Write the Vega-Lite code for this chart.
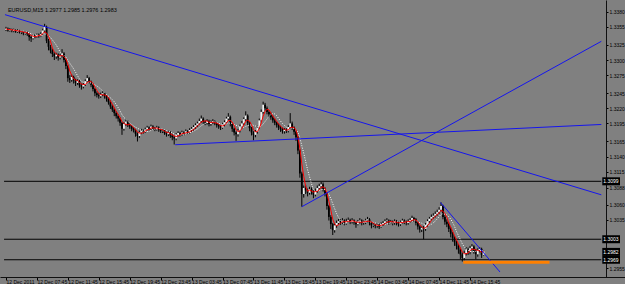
{
  "$schema": "https://vega.github.io/schema/vega-lite/v6.json",
  "width": 625,
  "height": 277,
  "autosize": "none",
  "padding": {"left": 0, "top": 0, "right": 0, "bottom": 7},
  "background": "#808080",
  "config": {"view": {"stroke": null}, "font": "Liberation Sans", "axis": {"labelOverlap": false, "labelFlush": false, "labelBound": false, "grid": false, "title": null}},
  "datasets": {
    "bars": [
      {"i":0,"o":1.3350,"h":1.3355,"l":1.3348,"c":1.3352},
      {"i":1,"o":1.3352,"h":1.3354,"l":1.3347,"c":1.3349},
      {"i":2,"o":1.3349,"h":1.3353,"l":1.3347,"c":1.3351},
      {"i":3,"o":1.3351,"h":1.3352,"l":1.3346,"c":1.3348},
      {"i":4,"o":1.3348,"h":1.3352,"l":1.3346,"c":1.3350},
      {"i":5,"o":1.3350,"h":1.3351,"l":1.3345,"c":1.3347},
      {"i":6,"o":1.3347,"h":1.3351,"l":1.3345,"c":1.3349},
      {"i":7,"o":1.3349,"h":1.3350,"l":1.3344,"c":1.3346},
      {"i":8,"o":1.3346,"h":1.3349,"l":1.3343,"c":1.3347},
      {"i":9,"o":1.3347,"h":1.3348,"l":1.3341,"c":1.3344},
      {"i":10,"o":1.3344,"h":1.3348,"l":1.3342,"c":1.3346},
      {"i":11,"o":1.3346,"h":1.3347,"l":1.3340,"c":1.3343},
      {"i":12,"o":1.3343,"h":1.3344,"l":1.3332,"c":1.3338},
      {"i":13,"o":1.3338,"h":1.3340,"l":1.3330,"c":1.3336},
      {"i":14,"o":1.3336,"h":1.3343,"l":1.3334,"c":1.3341},
      {"i":15,"o":1.3341,"h":1.3343,"l":1.3336,"c":1.3339},
      {"i":16,"o":1.3339,"h":1.3344,"l":1.3337,"c":1.3342},
      {"i":17,"o":1.3342,"h":1.3344,"l":1.3337,"c":1.3340},
      {"i":18,"o":1.3340,"h":1.3346,"l":1.3338,"c":1.3343},
      {"i":19,"o":1.3343,"h":1.3352,"l":1.3341,"c":1.3349},
      {"i":20,"o":1.3349,"h":1.3360,"l":1.3346,"c":1.3355},
      {"i":21,"o":1.3355,"h":1.3357,"l":1.3328,"c":1.3332},
      {"i":22,"o":1.3332,"h":1.3335,"l":1.3316,"c":1.3322},
      {"i":23,"o":1.3322,"h":1.3325,"l":1.3311,"c":1.3316},
      {"i":24,"o":1.3316,"h":1.3319,"l":1.3305,"c":1.3310},
      {"i":25,"o":1.3310,"h":1.3313,"l":1.3300,"c":1.3306},
      {"i":26,"o":1.3306,"h":1.3312,"l":1.3302,"c":1.3309},
      {"i":27,"o":1.3309,"h":1.3311,"l":1.3299,"c":1.3304},
      {"i":28,"o":1.3304,"h":1.3310,"l":1.3301,"c":1.3307},
      {"i":29,"o":1.3307,"h":1.3318,"l":1.3304,"c":1.3311},
      {"i":30,"o":1.3311,"h":1.3313,"l":1.3296,"c":1.3300},
      {"i":31,"o":1.3300,"h":1.3302,"l":1.3285,"c":1.3290},
      {"i":32,"o":1.3290,"h":1.3292,"l":1.3264,"c":1.3270},
      {"i":33,"o":1.3270,"h":1.3275,"l":1.3262,"c":1.3267},
      {"i":34,"o":1.3267,"h":1.3276,"l":1.3264,"c":1.3272},
      {"i":35,"o":1.3272,"h":1.3274,"l":1.3261,"c":1.3266},
      {"i":36,"o":1.3266,"h":1.3269,"l":1.3257,"c":1.3262},
      {"i":37,"o":1.3262,"h":1.3268,"l":1.3259,"c":1.3265},
      {"i":38,"o":1.3265,"h":1.3267,"l":1.3254,"c":1.3258},
      {"i":39,"o":1.3258,"h":1.3261,"l":1.3251,"c":1.3256},
      {"i":40,"o":1.3256,"h":1.3262,"l":1.3253,"c":1.3259},
      {"i":41,"o":1.3259,"h":1.3268,"l":1.3257,"c":1.3265},
      {"i":42,"o":1.3265,"h":1.3275,"l":1.3263,"c":1.3270},
      {"i":43,"o":1.3270,"h":1.3272,"l":1.3261,"c":1.3264},
      {"i":44,"o":1.3264,"h":1.3266,"l":1.3255,"c":1.3259},
      {"i":45,"o":1.3259,"h":1.3261,"l":1.3248,"c":1.3252},
      {"i":46,"o":1.3252,"h":1.3254,"l":1.3240,"c":1.3245},
      {"i":47,"o":1.3245,"h":1.3248,"l":1.3238,"c":1.3242},
      {"i":48,"o":1.3242,"h":1.3245,"l":1.3236,"c":1.3240},
      {"i":49,"o":1.3240,"h":1.3246,"l":1.3237,"c":1.3243},
      {"i":50,"o":1.3243,"h":1.3249,"l":1.3240,"c":1.3245},
      {"i":51,"o":1.3245,"h":1.3247,"l":1.3236,"c":1.3240},
      {"i":52,"o":1.3240,"h":1.3242,"l":1.3231,"c":1.3236},
      {"i":53,"o":1.3236,"h":1.3238,"l":1.3226,"c":1.3230},
      {"i":54,"o":1.3230,"h":1.3233,"l":1.3219,"c":1.3223},
      {"i":55,"o":1.3223,"h":1.3226,"l":1.3214,"c":1.3218},
      {"i":56,"o":1.3218,"h":1.3221,"l":1.3207,"c":1.3212},
      {"i":57,"o":1.3212,"h":1.3215,"l":1.3203,"c":1.3207},
      {"i":58,"o":1.3207,"h":1.3210,"l":1.3198,"c":1.3203},
      {"i":59,"o":1.3203,"h":1.3205,"l":1.3191,"c":1.3196},
      {"i":60,"o":1.3196,"h":1.3198,"l":1.3176,"c":1.3186},
      {"i":61,"o":1.3186,"h":1.3197,"l":1.3183,"c":1.3194},
      {"i":62,"o":1.3194,"h":1.3202,"l":1.3191,"c":1.3198},
      {"i":63,"o":1.3198,"h":1.3200,"l":1.3189,"c":1.3192},
      {"i":64,"o":1.3192,"h":1.3195,"l":1.3186,"c":1.3190},
      {"i":65,"o":1.3190,"h":1.3192,"l":1.3182,"c":1.3186},
      {"i":66,"o":1.3186,"h":1.3189,"l":1.3180,"c":1.3184},
      {"i":67,"o":1.3184,"h":1.3186,"l":1.3173,"c":1.3178},
      {"i":68,"o":1.3178,"h":1.3180,"l":1.3165,"c":1.3174},
      {"i":69,"o":1.3174,"h":1.3183,"l":1.3171,"c":1.3180},
      {"i":70,"o":1.3180,"h":1.3186,"l":1.3177,"c":1.3183},
      {"i":71,"o":1.3183,"h":1.3185,"l":1.3178,"c":1.3181},
      {"i":72,"o":1.3181,"h":1.3188,"l":1.3179,"c":1.3185},
      {"i":73,"o":1.3185,"h":1.3191,"l":1.3183,"c":1.3188},
      {"i":74,"o":1.3188,"h":1.3190,"l":1.3183,"c":1.3186},
      {"i":75,"o":1.3186,"h":1.3193,"l":1.3184,"c":1.3190},
      {"i":76,"o":1.3190,"h":1.3192,"l":1.3184,"c":1.3187},
      {"i":77,"o":1.3187,"h":1.3189,"l":1.3182,"c":1.3185},
      {"i":78,"o":1.3185,"h":1.3191,"l":1.3183,"c":1.3188},
      {"i":79,"o":1.3188,"h":1.3190,"l":1.3181,"c":1.3184},
      {"i":80,"o":1.3184,"h":1.3186,"l":1.3179,"c":1.3182},
      {"i":81,"o":1.3182,"h":1.3186,"l":1.3179,"c":1.3183},
      {"i":82,"o":1.3183,"h":1.3185,"l":1.3176,"c":1.3179},
      {"i":83,"o":1.3179,"h":1.3181,"l":1.3173,"c":1.3177},
      {"i":84,"o":1.3177,"h":1.3183,"l":1.3174,"c":1.3180},
      {"i":85,"o":1.3180,"h":1.3182,"l":1.3171,"c":1.3175},
      {"i":86,"o":1.3175,"h":1.3177,"l":1.3167,"c":1.3172},
      {"i":87,"o":1.3172,"h":1.3174,"l":1.3160,"c":1.3170},
      {"i":88,"o":1.3170,"h":1.3179,"l":1.3167,"c":1.3176},
      {"i":89,"o":1.3176,"h":1.3182,"l":1.3173,"c":1.3179},
      {"i":90,"o":1.3179,"h":1.3181,"l":1.3173,"c":1.3177},
      {"i":91,"o":1.3177,"h":1.3183,"l":1.3174,"c":1.3180},
      {"i":92,"o":1.3180,"h":1.3182,"l":1.3175,"c":1.3178},
      {"i":93,"o":1.3178,"h":1.3185,"l":1.3176,"c":1.3182},
      {"i":94,"o":1.3182,"h":1.3184,"l":1.3177,"c":1.3180},
      {"i":95,"o":1.3180,"h":1.3187,"l":1.3178,"c":1.3184},
      {"i":96,"o":1.3184,"h":1.3189,"l":1.3181,"c":1.3186},
      {"i":97,"o":1.3186,"h":1.3192,"l":1.3183,"c":1.3189},
      {"i":98,"o":1.3189,"h":1.3195,"l":1.3186,"c":1.3192},
      {"i":99,"o":1.3192,"h":1.3198,"l":1.3189,"c":1.3195},
      {"i":100,"o":1.3195,"h":1.3203,"l":1.3193,"c":1.3199},
      {"i":101,"o":1.3199,"h":1.3208,"l":1.3196,"c":1.3203},
      {"i":102,"o":1.3203,"h":1.3205,"l":1.3194,"c":1.3198},
      {"i":103,"o":1.3198,"h":1.3200,"l":1.3192,"c":1.3196},
      {"i":104,"o":1.3196,"h":1.3202,"l":1.3193,"c":1.3199},
      {"i":105,"o":1.3199,"h":1.3201,"l":1.3190,"c":1.3194},
      {"i":106,"o":1.3194,"h":1.3200,"l":1.3191,"c":1.3197},
      {"i":107,"o":1.3197,"h":1.3202,"l":1.3194,"c":1.3198},
      {"i":108,"o":1.3198,"h":1.3200,"l":1.3192,"c":1.3195},
      {"i":109,"o":1.3195,"h":1.3197,"l":1.3188,"c":1.3192},
      {"i":110,"o":1.3192,"h":1.3194,"l":1.3186,"c":1.3190},
      {"i":111,"o":1.3190,"h":1.3192,"l":1.3184,"c":1.3188},
      {"i":112,"o":1.3188,"h":1.3196,"l":1.3186,"c":1.3193},
      {"i":113,"o":1.3193,"h":1.3200,"l":1.3190,"c":1.3197},
      {"i":114,"o":1.3197,"h":1.3206,"l":1.3195,"c":1.3203},
      {"i":115,"o":1.3203,"h":1.3212,"l":1.3200,"c":1.3206},
      {"i":116,"o":1.3206,"h":1.3208,"l":1.3190,"c":1.3194},
      {"i":117,"o":1.3194,"h":1.3196,"l":1.3181,"c":1.3186},
      {"i":118,"o":1.3186,"h":1.3188,"l":1.3175,"c":1.3180},
      {"i":119,"o":1.3180,"h":1.3182,"l":1.3166,"c":1.3177},
      {"i":120,"o":1.3177,"h":1.3186,"l":1.3173,"c":1.3183},
      {"i":121,"o":1.3183,"h":1.3193,"l":1.3180,"c":1.3190},
      {"i":122,"o":1.3190,"h":1.3199,"l":1.3187,"c":1.3195},
      {"i":123,"o":1.3195,"h":1.3205,"l":1.3192,"c":1.3202},
      {"i":124,"o":1.3202,"h":1.3215,"l":1.3199,"c":1.3208},
      {"i":125,"o":1.3208,"h":1.3210,"l":1.3192,"c":1.3196},
      {"i":126,"o":1.3196,"h":1.3198,"l":1.3182,"c":1.3187},
      {"i":127,"o":1.3187,"h":1.3189,"l":1.3175,"c":1.3180},
      {"i":128,"o":1.3180,"h":1.3182,"l":1.3167,"c":1.3176},
      {"i":129,"o":1.3176,"h":1.3184,"l":1.3172,"c":1.3181},
      {"i":130,"o":1.3181,"h":1.3191,"l":1.3178,"c":1.3188},
      {"i":131,"o":1.3188,"h":1.3203,"l":1.3186,"c":1.3200},
      {"i":132,"o":1.3200,"h":1.3218,"l":1.3198,"c":1.3214},
      {"i":133,"o":1.3214,"h":1.3231,"l":1.3211,"c":1.3226},
      {"i":134,"o":1.3226,"h":1.3229,"l":1.3216,"c":1.3220},
      {"i":135,"o":1.3220,"h":1.3223,"l":1.3210,"c":1.3214},
      {"i":136,"o":1.3214,"h":1.3217,"l":1.3205,"c":1.3210},
      {"i":137,"o":1.3210,"h":1.3213,"l":1.3201,"c":1.3205},
      {"i":138,"o":1.3205,"h":1.3208,"l":1.3196,"c":1.3200},
      {"i":139,"o":1.3200,"h":1.3203,"l":1.3192,"c":1.3196},
      {"i":140,"o":1.3196,"h":1.3198,"l":1.3188,"c":1.3192},
      {"i":141,"o":1.3192,"h":1.3195,"l":1.3184,"c":1.3188},
      {"i":142,"o":1.3188,"h":1.3191,"l":1.3181,"c":1.3186},
      {"i":143,"o":1.3186,"h":1.3188,"l":1.3178,"c":1.3182},
      {"i":144,"o":1.3182,"h":1.3187,"l":1.3178,"c":1.3184},
      {"i":145,"o":1.3184,"h":1.3187,"l":1.3179,"c":1.3183},
      {"i":146,"o":1.3183,"h":1.3192,"l":1.3180,"c":1.3189},
      {"i":147,"o":1.3189,"h":1.3212,"l":1.3186,"c":1.3195},
      {"i":148,"o":1.3195,"h":1.3198,"l":1.3184,"c":1.3188},
      {"i":149,"o":1.3188,"h":1.3190,"l":1.3176,"c":1.3181},
      {"i":150,"o":1.3181,"h":1.3183,"l":1.3166,"c":1.3172},
      {"i":151,"o":1.3172,"h":1.3174,"l":1.3144,"c":1.3150},
      {"i":152,"o":1.3150,"h":1.3152,"l":1.3105,"c":1.3112},
      {"i":153,"o":1.3112,"h":1.3115,"l":1.3057,"c":1.3078},
      {"i":154,"o":1.3078,"h":1.3092,"l":1.3072,"c":1.3088},
      {"i":155,"o":1.3088,"h":1.3093,"l":1.3078,"c":1.3084},
      {"i":156,"o":1.3084,"h":1.3087,"l":1.3074,"c":1.3080},
      {"i":157,"o":1.3080,"h":1.3090,"l":1.3077,"c":1.3086},
      {"i":158,"o":1.3086,"h":1.3089,"l":1.3077,"c":1.3082},
      {"i":159,"o":1.3082,"h":1.3084,"l":1.3071,"c":1.3077},
      {"i":160,"o":1.3077,"h":1.3087,"l":1.3074,"c":1.3083},
      {"i":161,"o":1.3083,"h":1.3092,"l":1.3080,"c":1.3088},
      {"i":162,"o":1.3088,"h":1.3095,"l":1.3084,"c":1.3091},
      {"i":163,"o":1.3091,"h":1.3098,"l":1.3087,"c":1.3094},
      {"i":164,"o":1.3094,"h":1.3097,"l":1.3082,"c":1.3086},
      {"i":165,"o":1.3086,"h":1.3089,"l":1.3074,"c":1.3079},
      {"i":166,"o":1.3079,"h":1.3081,"l":1.3052,"c":1.3058},
      {"i":167,"o":1.3058,"h":1.3060,"l":1.3034,"c":1.3040},
      {"i":168,"o":1.3040,"h":1.3043,"l":1.3020,"c":1.3028},
      {"i":169,"o":1.3028,"h":1.3030,"l":1.3010,"c":1.3018},
      {"i":170,"o":1.3018,"h":1.3030,"l":1.3014,"c":1.3026},
      {"i":171,"o":1.3026,"h":1.3034,"l":1.3022,"c":1.3030},
      {"i":172,"o":1.3030,"h":1.3037,"l":1.3027,"c":1.3033},
      {"i":173,"o":1.3033,"h":1.3036,"l":1.3027,"c":1.3031},
      {"i":174,"o":1.3031,"h":1.3038,"l":1.3028,"c":1.3034},
      {"i":175,"o":1.3034,"h":1.3036,"l":1.3026,"c":1.3030},
      {"i":176,"o":1.3030,"h":1.3037,"l":1.3027,"c":1.3033},
      {"i":177,"o":1.3033,"h":1.3039,"l":1.3030,"c":1.3035},
      {"i":178,"o":1.3035,"h":1.3037,"l":1.3028,"c":1.3032},
      {"i":179,"o":1.3032,"h":1.3038,"l":1.3029,"c":1.3034},
      {"i":180,"o":1.3034,"h":1.3036,"l":1.3027,"c":1.3031},
      {"i":181,"o":1.3031,"h":1.3033,"l":1.3022,"c":1.3028},
      {"i":182,"o":1.3028,"h":1.3035,"l":1.3026,"c":1.3032},
      {"i":183,"o":1.3032,"h":1.3038,"l":1.3029,"c":1.3034},
      {"i":184,"o":1.3034,"h":1.3036,"l":1.3026,"c":1.3030},
      {"i":185,"o":1.3030,"h":1.3034,"l":1.3027,"c":1.3031},
      {"i":186,"o":1.3031,"h":1.3037,"l":1.3028,"c":1.3034},
      {"i":187,"o":1.3034,"h":1.3040,"l":1.3031,"c":1.3036},
      {"i":188,"o":1.3036,"h":1.3038,"l":1.3026,"c":1.3030},
      {"i":189,"o":1.3030,"h":1.3032,"l":1.3021,"c":1.3026},
      {"i":190,"o":1.3026,"h":1.3030,"l":1.3023,"c":1.3027},
      {"i":191,"o":1.3027,"h":1.3029,"l":1.3021,"c":1.3025},
      {"i":192,"o":1.3025,"h":1.3030,"l":1.3022,"c":1.3027},
      {"i":193,"o":1.3027,"h":1.3029,"l":1.3020,"c":1.3024},
      {"i":194,"o":1.3024,"h":1.3031,"l":1.3022,"c":1.3028},
      {"i":195,"o":1.3028,"h":1.3033,"l":1.3025,"c":1.3030},
      {"i":196,"o":1.3030,"h":1.3036,"l":1.3027,"c":1.3033},
      {"i":197,"o":1.3033,"h":1.3038,"l":1.3030,"c":1.3034},
      {"i":198,"o":1.3034,"h":1.3036,"l":1.3027,"c":1.3031},
      {"i":199,"o":1.3031,"h":1.3035,"l":1.3028,"c":1.3032},
      {"i":200,"o":1.3032,"h":1.3034,"l":1.3026,"c":1.3030},
      {"i":201,"o":1.3030,"h":1.3036,"l":1.3027,"c":1.3033},
      {"i":202,"o":1.3033,"h":1.3035,"l":1.3026,"c":1.3030},
      {"i":203,"o":1.3030,"h":1.3032,"l":1.3024,"c":1.3028},
      {"i":204,"o":1.3028,"h":1.3034,"l":1.3025,"c":1.3031},
      {"i":205,"o":1.3031,"h":1.3037,"l":1.3029,"c":1.3034},
      {"i":206,"o":1.3034,"h":1.3036,"l":1.3028,"c":1.3032},
      {"i":207,"o":1.3032,"h":1.3034,"l":1.3026,"c":1.3030},
      {"i":208,"o":1.3030,"h":1.3036,"l":1.3027,"c":1.3033},
      {"i":209,"o":1.3033,"h":1.3038,"l":1.3030,"c":1.3035},
      {"i":210,"o":1.3035,"h":1.3042,"l":1.3032,"c":1.3038},
      {"i":211,"o":1.3038,"h":1.3040,"l":1.3032,"c":1.3036},
      {"i":212,"o":1.3036,"h":1.3038,"l":1.3026,"c":1.3030},
      {"i":213,"o":1.3030,"h":1.3032,"l":1.3019,"c":1.3024},
      {"i":214,"o":1.3024,"h":1.3026,"l":1.3014,"c":1.3019},
      {"i":215,"o":1.3019,"h":1.3025,"l":1.3015,"c":1.3022},
      {"i":216,"o":1.3022,"h":1.3025,"l":1.3003,"c":1.3020},
      {"i":217,"o":1.3020,"h":1.3030,"l":1.3017,"c":1.3027},
      {"i":218,"o":1.3027,"h":1.3036,"l":1.3024,"c":1.3033},
      {"i":219,"o":1.3033,"h":1.3040,"l":1.3030,"c":1.3037},
      {"i":220,"o":1.3037,"h":1.3044,"l":1.3034,"c":1.3040},
      {"i":221,"o":1.3040,"h":1.3046,"l":1.3037,"c":1.3042},
      {"i":222,"o":1.3042,"h":1.3049,"l":1.3039,"c":1.3045},
      {"i":223,"o":1.3045,"h":1.3052,"l":1.3042,"c":1.3048},
      {"i":224,"o":1.3048,"h":1.3056,"l":1.3045,"c":1.3052},
      {"i":225,"o":1.3052,"h":1.3064,"l":1.3049,"c":1.3058},
      {"i":226,"o":1.3058,"h":1.3060,"l":1.3036,"c":1.3040},
      {"i":227,"o":1.3040,"h":1.3043,"l":1.3027,"c":1.3032},
      {"i":228,"o":1.3032,"h":1.3036,"l":1.3023,"c":1.3028},
      {"i":229,"o":1.3028,"h":1.3031,"l":1.3015,"c":1.3020},
      {"i":230,"o":1.3020,"h":1.3023,"l":1.3006,"c":1.3012},
      {"i":231,"o":1.3012,"h":1.3015,"l":1.2999,"c":1.3005},
      {"i":232,"o":1.3005,"h":1.3008,"l":1.2992,"c":1.2998},
      {"i":233,"o":1.2998,"h":1.3001,"l":1.2986,"c":1.2992},
      {"i":234,"o":1.2992,"h":1.2995,"l":1.2979,"c":1.2986},
      {"i":235,"o":1.2986,"h":1.2989,"l":1.2970,"c":1.2978},
      {"i":236,"o":1.2978,"h":1.2981,"l":1.2966,"c":1.2972},
      {"i":237,"o":1.2972,"h":1.2984,"l":1.2968,"c":1.2980},
      {"i":238,"o":1.2980,"h":1.2990,"l":1.2976,"c":1.2986},
      {"i":239,"o":1.2986,"h":1.2989,"l":1.2977,"c":1.2982},
      {"i":240,"o":1.2982,"h":1.2992,"l":1.2978,"c":1.2988},
      {"i":241,"o":1.2988,"h":1.2995,"l":1.2984,"c":1.2991},
      {"i":242,"o":1.2991,"h":1.2993,"l":1.2979,"c":1.2984},
      {"i":243,"o":1.2984,"h":1.2987,"l":1.2970,"c":1.2978},
      {"i":244,"o":1.2978,"h":1.2988,"l":1.2974,"c":1.2985},
      {"i":245,"o":1.2985,"h":1.2990,"l":1.2981,"c":1.2987},
      {"i":246,"o":1.2987,"h":1.2989,"l":1.2972,"c":1.2977},
      {"i":247,"o":1.2977,"h":1.2985,"l":1.2976,"c":1.2983}
    ],
    "trend": [
      {"id":"t1","i":-0.51,"p":1.33752},
      {"id":"t1","i":307.9,"p":1.30766},
      {"id":"t2","i":87.5,"p":1.31596},
      {"id":"t2","i":307.9,"p":1.31932},
      {"id":"t3","i":153.0,"p":1.30569},
      {"id":"t3","i":307.9,"p":1.33310},
      {"id":"t4","i":224.7,"p":1.30640},
      {"id":"t4","i":255.5,"p":1.29487}
    ],
    "support": [
      {"i":236.5,"p":1.2965},
      {"i":281.1,"p":1.2965}
    ],
    "hlines": [
      {"p":1.3099},
      {"p":1.3003},
      {"p":1.2969}
    ],
    "boxes": [
      {"p":1.3099},
      {"p":1.3003},
      {"p":1.2982},
      {"p":1.2969}
    ],
    "header": [
      {"label":"EURUSD,M15  1.2977 1.2985 1.2976 1.2983"}
    ]
  },
  "layer": [
    {
      "data": {"name": "hlines"},
      "mark": {"type": "rule", "color": "#000000", "strokeWidth": 1},
      "encoding": {
        "x": {"datum": -1, "type": "quantitative", "scale": {"domain": [-0.509, 317.56], "nice": false, "zero": false}},
        "x2": {"datum": 307.9},
        "y": {"field": "p", "type": "quantitative", "scale": {"domain": [1.29487, 1.33912], "nice": false, "zero": false}}
      }
    },
    {
      "data": {"name": "bars"},
      "mark": {"type": "rule", "color": "#000000", "strokeWidth": 1},
      "encoding": {
        "x": {
          "field": "i", "type": "quantitative", "title": null,
          "axis": {
            "orient": "bottom",
            "values": [0,16,32,48,64,80,96,112,128,144,160,176,192,208,224,240],
            "tickCount": 60,
            "labelExpr": "['12 Dec 2011','12 Dec 07:45','12 Dec 11:45','12 Dec 15:45','12 Dec 19:45','12 Dec 23:45','13 Dec 03:45','13 Dec 07:45','13 Dec 11:45','13 Dec 15:45','13 Dec 19:45','13 Dec 23:45','14 Dec 03:45','14 Dec 07:45','14 Dec 11:45','14 Dec 15:45'][round(datum.value/16)]",
            "labelFontSize": 5, "labelColor": "#000000", "labelAlign": "left", "labelBaseline": "alphabetic",
            "labelPadding": 3, "labelDx": 1, "labelFlush": false, "labelOverlap": false, "labelBound": false,
            "tickSize": 3, "tickColor": "#000000", "domainColor": "#101010", "grid": false
          }
        },
        "y": {
          "field": "l", "type": "quantitative", "title": null,
          "axis": {
            "orient": "right", "offset": -19,
            "values": [1.3380,1.3355,1.3325,1.3300,1.3275,1.3245,1.3220,1.3195,1.3165,1.3140,1.3115,1.3088,1.3060,1.3035,1.2955],
            "tickCount": 60,
            "format": ".4f",
            "labelFontSize": 5, "labelColor": "#000000", "labelAlign": "left", "labelBaseline": "middle", "labelPadding": 1,
            "labelFlush": false, "labelOverlap": false, "labelBound": false,
            "tickSize": 2, "tickColor": "#000000", "domainColor": "#101010", "grid": false
          }
        },
        "y2": {"field": "h"}
      }
    },
    {
      "data": {"name": "bars"},
      "mark": {"type": "bar", "size": 1.8},
      "encoding": {
        "x": {"field": "i", "type": "quantitative"},
        "y": {"field": "o", "type": "quantitative"},
        "y2": {"field": "c"},
        "color": {"condition": {"test": "datum.c >= datum.o", "value": "#f0f0f0"}, "value": "#000000"}
      }
    },
    {
      "data": {"name": "bars"},
      "transform": [
        {"window": [{"op": "mean", "field": "c", "as": "ma_slow"}], "frame": [-7, 0], "sort": [{"field": "i", "order": "ascending"}]}
      ],
      "mark": {"type": "line", "color": "#ffffff", "strokeWidth": 1, "strokeDash": [1, 1.5]},
      "encoding": {
        "x": {"field": "i", "type": "quantitative"},
        "y": {"field": "ma_slow", "type": "quantitative"}
      }
    },
    {
      "data": {"name": "bars"},
      "transform": [
        {"window": [{"op": "mean", "field": "c", "as": "ma_fast"}], "frame": [-3, 0], "sort": [{"field": "i", "order": "ascending"}]}
      ],
      "mark": {"type": "line", "color": "#ff0000", "strokeWidth": 1},
      "encoding": {
        "x": {"field": "i", "type": "quantitative"},
        "y": {"field": "ma_fast", "type": "quantitative"}
      }
    },
    {
      "data": {"name": "trend"},
      "mark": {"type": "line", "color": "#1515ee", "strokeWidth": 1},
      "encoding": {
        "x": {"field": "i", "type": "quantitative"},
        "y": {"field": "p", "type": "quantitative"},
        "detail": {"field": "id"}
      }
    },
    {
      "data": {"name": "support"},
      "mark": {"type": "line", "color": "#ff8000", "strokeWidth": 3},
      "encoding": {
        "x": {"field": "i", "type": "quantitative"},
        "y": {"field": "p", "type": "quantitative"}
      }
    },
    {
      "data": {"name": "boxes"},
      "mark": {"type": "bar", "size": 8, "color": "#000000"},
      "encoding": {
        "x": {"datum": 308.4, "type": "quantitative"},
        "x2": {"datum": 317.56},
        "y": {"field": "p", "type": "quantitative"}
      }
    },
    {
      "data": {"name": "boxes"},
      "mark": {"type": "text", "color": "#ffffff", "fontSize": 5, "align": "left", "baseline": "middle"},
      "encoding": {
        "x": {"datum": 308.9, "type": "quantitative"},
        "y": {"field": "p", "type": "quantitative"},
        "text": {"field": "p", "type": "quantitative", "format": ".4f"}
      }
    },
    {
      "data": {"name": "header"},
      "mark": {"type": "text", "color": "#000000", "fontSize": 5.5, "align": "left", "baseline": "middle"},
      "encoding": {
        "x": {"datum": 1.0, "type": "quantitative"},
        "y": {"datum": 1.33832, "type": "quantitative"},
        "text": {"field": "label"}
      }
    },
    {
      "mark": {"type": "rule", "color": "#101010", "strokeWidth": 1},
      "encoding": {
        "x": {"datum": -0.3, "type": "quantitative"}
      }
    }
  ]
}
